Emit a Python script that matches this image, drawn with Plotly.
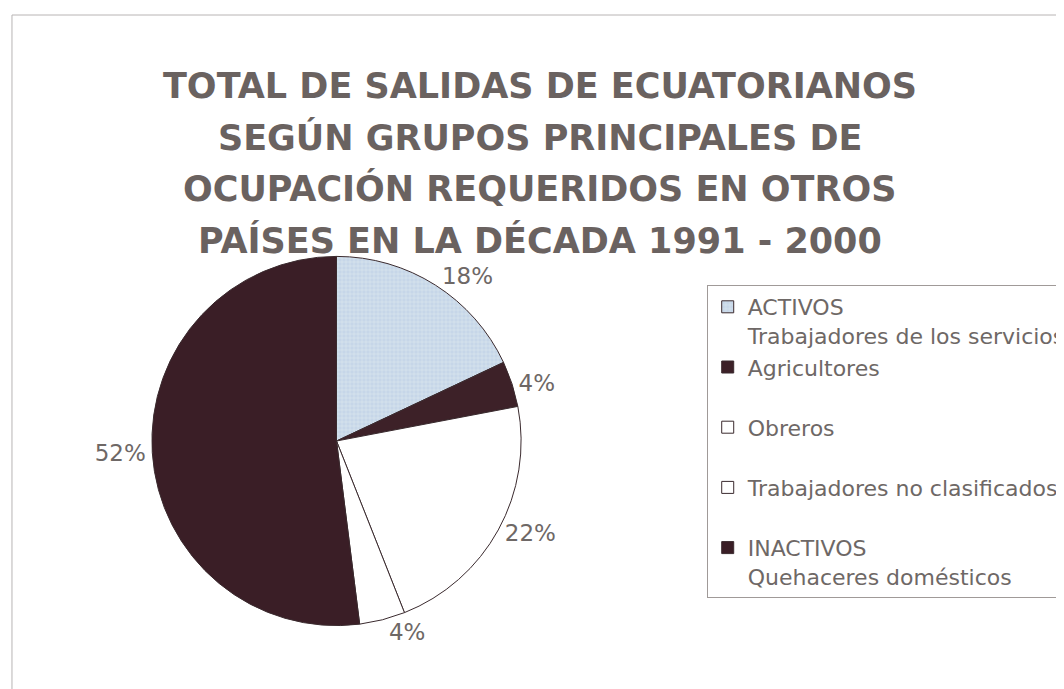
import plotly.graph_objects as go

# Datos del gráfico
labels = [
    "ACTIVOS<br>Trabajadores de los servicios",
    "Agricultores<br>\u00a0",
    "Obreros<br>\u00a0",
    "Trabajadores no clasificados<br>\u00a0",
    "INACTIVOS<br>Quehaceres domésticos",
]
values = [18, 4, 22, 4, 52]
colors = ["#c6d6e8", "#3d2128", "#ffffff", "#ffffff", "#3a1e26"]
title_lines = [
    "TOTAL DE SALIDAS DE ECUATORIANOS",
    "SEGÚN GRUPOS PRINCIPALES DE",
    "OCUPACIÓN REQUERIDOS EN OTROS",
    "PAÍSES EN LA DÉCADA 1991 - 2000",
]

W, H = 1064, 689
off = 8  # desplazamiento de la página
cx, cy, r = 339 - off, 441 - off, 186

fig = go.Figure()
fig.add_trace(go.Pie(
    labels=labels,
    values=values,
    sort=False,
    direction="clockwise",
    rotation=0,
    marker=dict(
        colors=colors,
        line=dict(color="#3a2a2e", width=1),
        pattern=dict(shape=["+", "", "", "", ""], fgcolor="#e4ecf4",
                     bgcolor=["#c6d6e8", "#3d2128", "#ffffff", "#ffffff", "#3a1e26"],
                     size=4, solidity=0.2),
    ),
    textinfo="percent",
    textposition="outside",
    texttemplate="%{percent:.0%}",
    textfont=dict(family="DejaVu Sans", size=23, color="#6e6866"),
    domain=dict(x=[(cx - r) / W, (cx + r) / W], y=[1 - (cy + r) / H, 1 - (cy - r) / H]),
))

# Título en cuatro líneas
for i, line in enumerate(title_lines):
    fig.add_annotation(
        text=line, xref="paper", yref="paper",
        x=(544 - off) / W, y=1 - (86 - off + i * 51.5) / H, xanchor="center", yanchor="middle",
        showarrow=False,
        font=dict(family="DejaVu Sans", size=35, color="#6a6260", weight="bold"),
    )

# Marco exterior
fig.add_shape(type="rect", xref="paper", yref="paper",
              x0=(12 - off) / W, x1=1.02, y0=-0.02, y1=1 - (15 - off) / H,
              line=dict(color="#b8b4b4", width=1))

fig.update_layout(
    width=W, height=H,
    margin=dict(l=0, r=0, t=0, b=0),
    paper_bgcolor="white",
    plot_bgcolor="white",
    legend=dict(
        x=(712 - off) / W, y=1 - (285 - off) / H, xanchor="left", yanchor="top",
        bordercolor="#a09a98", borderwidth=1,
        font=dict(family="DejaVu Sans", size=22, color="#6e6866"),
        valign="top",
        itemwidth=30,
    ),
)

fig.write_html("out.html")
